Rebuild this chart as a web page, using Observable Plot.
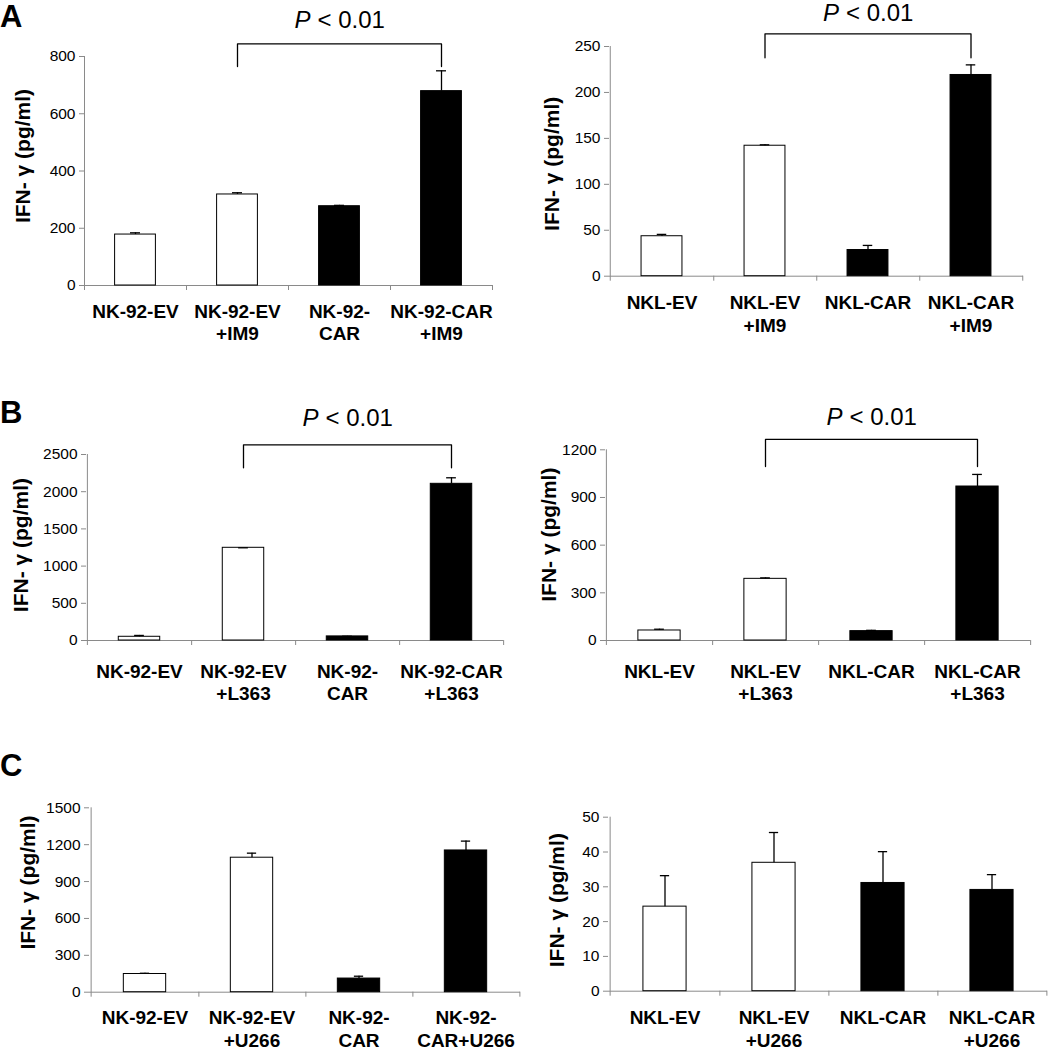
<!DOCTYPE html>
<html><head><meta charset="utf-8">
<script src="https://cdn.jsdelivr.net/npm/d3@7"></script>
<script src="https://cdn.jsdelivr.net/npm/@observablehq/plot@0.6"></script>
<style>
body{margin:0;background:#fff;}
#fig{position:relative;width:1050px;height:1050px;overflow:hidden;font-family:"Liberation Sans",Arial,sans-serif;background:#fff;}
.panel{position:absolute;}
.letter{position:absolute;left:0;font-weight:bold;font-size:31px;line-height:1;font-family:"Liberation Sans",Arial,sans-serif;}
</style></head><body>
<div id="fig"></div>
<script>
const yLabel = "IFN- γ (pg/ml)";
const pRest = "< 0.01";
const groups = ["EV", "EV", "CAR", "CAR"];

// Panel A (left): NK-92 + IM9
const catsA1 = ["NK-92-EV", "NK-92-EV\n+IM9", "NK-92-\nCAR", "NK-92-CAR\n+IM9"];
const valsA1 = [178, 318, 277, 679];
const errsA1 = [6, 6, 3, 71];
const ticksA1 = [0, 200, 400, 600, 800];

// Panel A (right): NKL + IM9
const catsA2 = ["NKL-EV", "NKL-EV\n+IM9", "NKL-CAR", "NKL-CAR\n+IM9"];
const valsA2 = [43.5, 142, 28.5, 219];
const errsA2 = [2, 1, 5, 11];
const ticksA2 = [0, 50, 100, 150, 200, 250];

// Panel B (left): NK-92 + L363
const catsB1 = ["NK-92-EV", "NK-92-EV\n+L363", "NK-92-\nCAR", "NK-92-CAR\n+L363"];
const valsB1 = [50, 1246, 55, 2106];
const errsB1 = [18, 0, 2, 81];
const ticksB1 = [0, 500, 1000, 1500, 2000, 2500];

// Panel B (right): NKL + L363
const catsB2 = ["NKL-EV", "NKL-EV\n+L363", "NKL-CAR", "NKL-CAR\n+L363"];
const valsB2 = [63, 388, 59, 969];
const errsB2 = [8, 6, 5, 76];
const ticksB2 = [0, 300, 600, 900, 1200];

// Panel C (left): NK-92 + U266
const catsC1 = ["NK-92-EV", "NK-92-EV\n+U266", "NK-92-\nCAR", "NK-92-\nCAR+U266"];
const valsC1 = [148, 1094, 111, 1153];
const errsC1 = [6, 37, 19, 76];
const ticksC1 = [0, 300, 600, 900, 1200, 1500];

// Panel C (right): NKL + U266
const catsC2 = ["NKL-EV", "NKL-EV\n+U266", "NKL-CAR", "NKL-CAR\n+U266"];
const valsC2 = [24.3, 36.9, 31.1, 29.1];
const errsC2 = [8.9, 8.7, 9.0, 4.4];
const ticksC2 = [0, 10, 20, 30, 40, 50];

// significance brackets: [leg bottom, bracket top, P label level] in data units
const brA1 = [765, 844, 928];
const brA2 = [237.7, 263.8, 286];
const brB1 = [2321, 2630, 2984];
const brB2 = [1095, 1265, 1403];

const letters = ["A", "B", "C"];

const axisColor = "#8a8a8a";
const font = '"Liberation Sans", Arial, sans-serif';

const panels = [
  {cats: catsA1, vals: valsA1, errs: errsA1, ticks: ticksA1, br: brA1, left: 0, top: 0, width: 500, height: 345, mt: 56, mb: 60, ml: 84, mr: 8, labX: 22.5, labDy: -15, pad: 16},
  {cats: catsA2, vals: valsA2, errs: errsA2, ticks: ticksA2, br: brA2, left: 525, top: 0, width: 525, height: 345, mt: 46, mb: 69.3, ml: 84, mr: 27, labX: 26.7, labDy: 2.5, pad: 17},
  {cats: catsB1, vals: valsB1, errs: errsB1, ticks: ticksB1, br: brB1, left: 0, top: 380, width: 525, height: 330, mt: 74, mb: 70, ml: 86, mr: 22, labX: 21, labDy: -2.4, pad: 21},
  {cats: catsB2, vals: valsB2, errs: errsB2, ticks: ticksB2, br: brB2, left: 525, top: 380, width: 525, height: 330, mt: 69.3, mb: 70, ml: 80, mr: 20, labX: 24, labDy: -10.5, pad: 21},
  {cats: catsC1, vals: valsC1, errs: errsC1, ticks: ticksC1, br: null, left: 0, top: 760, width: 525, height: 290, mt: 47.3, mb: 58.3, ml: 89, mr: 5, labX: 28, labDy: -17.5, pad: 16},
  {cats: catsC2, vals: valsC2, errs: errsC2, ticks: ticksC2, br: null, left: 525, top: 760, width: 525, height: 290, mt: 56.7, mb: 59.3, ml: 83, mr: 3, labX: 32, labDy: -4, pad: 17}
];

const fig = document.getElementById("fig");

function makePanel(p) {
  const data = p.cats.map((c, i) => ({cat: c, value: p.vals[i], err: p.errs[i], group: groups[i]}));
  const plotW = p.width - p.ml - p.mr;
  const plotH = p.height - p.mt - p.mb;
  const step = plotW / p.cats.length;
  const ymax = p.ticks[p.ticks.length - 1];
  const marks = [
    Plot.ruleY([0], {stroke: axisColor, strokeWidth: 1}),
    Plot.ruleX([p.cats[0]], {dx: -step / 2, insetBottom: -5, stroke: axisColor, strokeWidth: 1}),
    Plot.ruleX(p.cats, {dx: step / 2, insetTop: plotH, insetBottom: -5, stroke: axisColor, strokeWidth: 1}),
    Plot.axisY({ticks: p.ticks, tickFormat: d => String(d), tickSize: 5, tickPadding: 4, stroke: axisColor, fill: "black", fontSize: 15.5, label: null}),
    Plot.axisX({tickSize: 0, tickPadding: p.pad, fontSize: 19, fontWeight: "bold", lineHeight: 1.2, label: null, fill: "black"}),
    Plot.barY(data, {x: "cat", y: "value", fill: "group", stroke: "black", strokeWidth: 1, insetLeft: step * 0.3, insetRight: step * 0.3}),
    Plot.ruleX(data, {x: "cat", y1: "value", y2: d => d.value + d.err, stroke: "black", strokeWidth: 1.3}),
    Plot.tickY(data, {x: "cat", y: d => d.value + d.err, insetLeft: (step - 10) / 2, insetRight: (step - 10) / 2, stroke: "black", strokeWidth: 1.3}),
    Plot.text([yLabel], {frameAnchor: "left", textAnchor: "middle", rotate: -90, dx: p.labX - p.ml, dy: p.labDy, fontSize: 21, fontWeight: "bold", lineAnchor: "middle", fill: "black"})
  ];
  if (p.br) {
    const [lo, hi, pl] = p.br;
    const br = [{x: p.cats[1], y: lo}, {x: p.cats[1], y: hi}, {x: p.cats[3], y: hi}, {x: p.cats[3], y: lo}];
    marks.push(Plot.line(br, {x: "x", y: "y", stroke: "black", strokeWidth: 1.3}));
    marks.push(Plot.text([pl], {x: () => p.cats[2], y: d => d, text: () => "P", fontStyle: "italic", textAnchor: "end", dx: -29, fontSize: 24, lineAnchor: "middle", fill: "black"}));
    marks.push(Plot.text([pl], {x: () => p.cats[2], y: d => d, text: () => pRest, textAnchor: "start", dx: -22, fontSize: 24, lineAnchor: "middle", fill: "black"}));
  }
  const svg = Plot.plot({
    width: p.width, height: p.height,
    marginTop: p.mt, marginBottom: p.mb, marginLeft: p.ml, marginRight: p.mr,
    x: {domain: p.cats, padding: 0},
    y: {domain: [0, ymax]},
    color: {domain: ["EV", "CAR"], range: ["white", "black"]},
    style: {fontFamily: font, fontSize: "15px", color: "black", background: "transparent", overflow: "visible"},
    marks
  });
  const wrap = document.createElement("div");
  wrap.className = "panel";
  wrap.style.left = p.left + "px";
  wrap.style.top = p.top + "px";
  wrap.appendChild(svg);
  fig.appendChild(wrap);
}

panels.forEach(makePanel);

const letterTops = [1, 397, 750];
letters.forEach((l, i) => {
  const d = document.createElement("div");
  d.className = "letter";
  d.style.top = letterTops[i] + "px";
  d.textContent = l;
  fig.appendChild(d);
});
</script>
</body></html>
